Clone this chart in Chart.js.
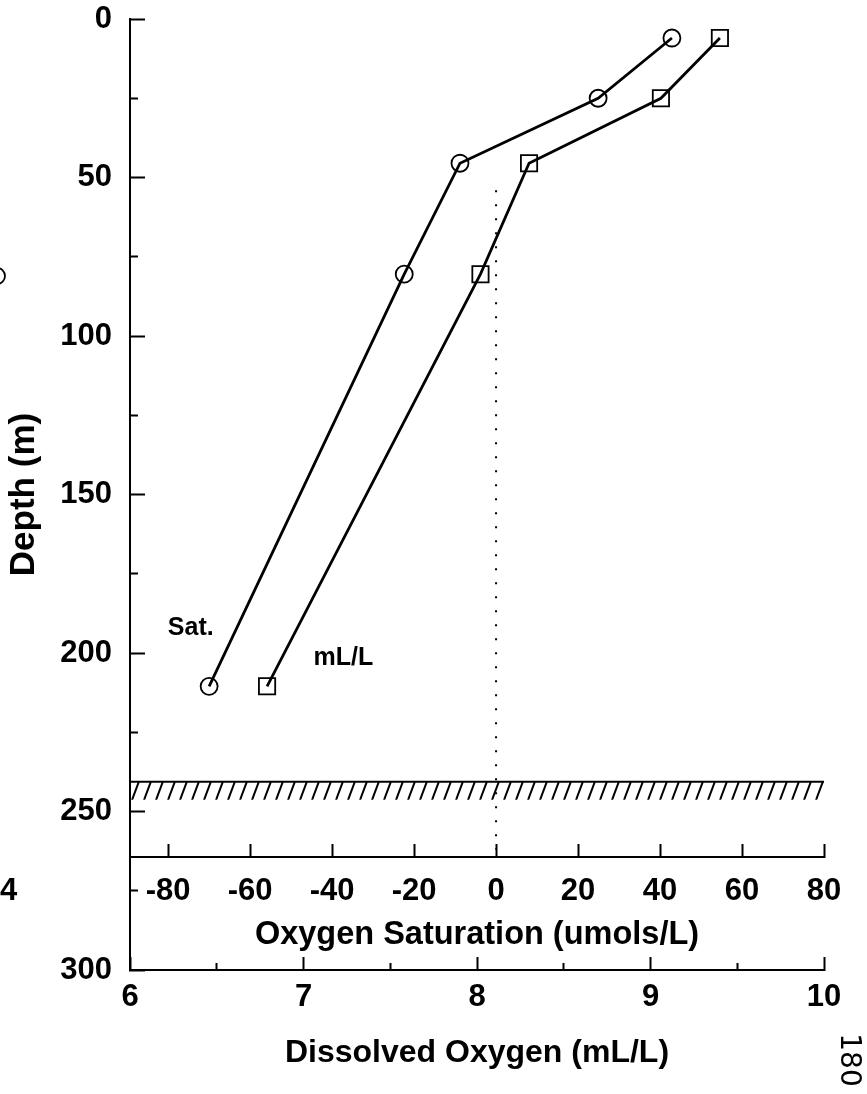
<!DOCTYPE html>
<html>
<head>
<meta charset="utf-8">
<script src="https://cdn.jsdelivr.net/npm/chart.js@4.4.1/dist/chart.umd.min.js"></script>
<style>
  html, body { margin: 0; padding: 0; background: #fff; }
  #wrap { width: 867px; height: 1094px; }
</style>
</head>
<body>
<div id="wrap"><canvas id="graph1" width="867" height="1094"></canvas></div>
<script>
// profile data
var depths = [6, 25, 45.5, 80.5, 210.5];
var satValues = [42.9, 24.9, -8.8, -22.4, -70.0];   // umols/L (circles)
var doValues = [9.40, 9.06, 8.30, 8.02, 6.79];      // mL/L (squares)

var doTicks = [6, 7, 8, 9, 10];
var doMinorTicks = [6.5, 7.5, 8.5, 9.5];
var satTicks = [-80, -60, -40, -20, 0, 20, 40, 60, 80];
var depthTicks = [0, 50, 100, 150, 200, 250, 300];
var depthMinorTicks = [25, 75, 125, 175, 225, 275];

var zeroSatDepths = [54, 262];     // dotted line at zero saturation
var bottomLayer = [240.6, 246.3];  // hatched bottom: top line, lower edge

var notes = [
  { text: 'Sat.', x: 6.35, y: 192 },
  { text: 'mL/L', x: 7.23, y: 201.5 }
];

Chart.defaults.font.family = '"Liberation Sans", Arial, sans-serif';
Chart.defaults.font.weight = 'bold';
Chart.defaults.color = '#000';

function pairs(xs, ys) {
  return xs.map(function (v, i) { return { x: v, y: ys[i] }; });
}
function setTicks(values) {
  return function (axis) {
    axis.ticks = values.map(function (v) { return { value: v }; });
  };
}
// keep the label overhang from pushing the plot area around
function fixSize(w, h) {
  return function (a) {
    if (w !== null) a.width = w;
    if (h !== null) a.height = h;
    a.paddingTop = a.paddingBottom = a.paddingLeft = a.paddingRight = 0;
  };
}

// diagonal hatching for the bottom layer
var tile = document.createElement('canvas');
tile.width = 12; tile.height = 32;
var tctx = tile.getContext('2d');
tctx.strokeStyle = '#000';
tctx.lineWidth = 2;
[-12, 0, 12].forEach(function (o) {
  tctx.beginPath();
  tctx.moveTo(o, 32);
  tctx.lineTo(o + 12, 0);
  tctx.stroke();
});
var hatch = tctx.createPattern(tile, 'repeat');

var notesPlugin = {
  id: 'notes',
  afterDatasetsDraw: function (chart) {
    var ctx = chart.ctx, sx = chart.scales.x, sy = chart.scales.y;
    ctx.save();
    ctx.fillStyle = '#000';
    ctx.font = 'bold 25px "Liberation Sans"';
    ctx.textAlign = 'center';
    ctx.textBaseline = 'middle';
    notes.forEach(function (n) {
      ctx.fillText(n.text, sx.getPixelForValue(n.x), sy.getPixelForValue(n.y));
    });
    // bits of the scanned page around the figure
    ctx.font = 'bold 31px "Liberation Sans"';
    ctx.textAlign = 'left';
    ctx.fillText('4', 0, 891);
    ctx.strokeStyle = '#000';
    ctx.lineWidth = 1.8;
    ctx.beginPath();
    ctx.arc(-3, 276, 8, 0, Math.PI * 2);
    ctx.stroke();
    ctx.translate(848, 1060);
    ctx.rotate(Math.PI / 2);
    ctx.font = '28px "DejaVu Sans"';
    ctx.textAlign = 'center';
    ctx.fillText('180', 0, 0);
    ctx.restore();
  }
};

var ctx1 = document.getElementById('graph1').getContext('2d');
var graph1 = new Chart(ctx1, {
  type: 'line',
  data: {
    datasets: [{
      label: 'Sat.',
      data: pairs(satValues, depths),
      xAxisID: 'xs',
      borderColor: '#000',
      borderWidth: 2.8,
      pointStyle: 'circle',
      pointRadius: 8.5,
      pointBorderWidth: 1.8,
      pointBackgroundColor: 'rgba(0,0,0,0)',
      pointBorderColor: '#000',
      tension: 0
    }, {
      label: 'mL/L',
      data: pairs(doValues, depths),
      xAxisID: 'x',
      borderColor: '#000',
      borderWidth: 2.8,
      pointStyle: 'rect',
      pointRadius: 11.5,
      pointBorderWidth: 1.8,
      pointBackgroundColor: 'rgba(0,0,0,0)',
      pointBorderColor: '#000',
      tension: 0
    }, {
      label: 'zero',
      data: [{ x: 0, y: zeroSatDepths[0] }, { x: 0, y: zeroSatDepths[1] }],
      xAxisID: 'xs',
      borderColor: '#000',
      borderWidth: 2,
      borderDash: [2, 12],
      pointRadius: 0
    }, {
      label: 'bottom',
      data: [{ x: 6, y: bottomLayer[0] }, { x: 10, y: bottomLayer[0] }],
      xAxisID: 'x',
      borderColor: '#000',
      borderWidth: 2,
      pointRadius: 0,
      fill: { value: bottomLayer[1] },
      backgroundColor: hatch
    }]
  },
  options: {
    responsive: false,
    animation: false,
    devicePixelRatio: 1,
    layout: { padding: { top: 19, right: 43, left: 0, bottom: 0 } },
    plugins: { legend: { display: false }, tooltip: { enabled: false } },
    scales: {
      x: {
        type: 'linear', position: 'bottom', min: 6, max: 10,
        afterBuildTicks: setTicks(doTicks),
        afterFit: fixSize(null, 124),
        grid: { drawOnChartArea: false, tickLength: -13, tickWidth: 2, tickColor: '#000' },
        border: { color: '#000', width: 2 },
        ticks: { font: { size: 31 }, padding: 22, maxRotation: 0, autoSkip: false,
                 callback: function (v) { return String(v); } },
        title: { display: true, text: 'Dissolved Oxygen (mL/L)', font: { size: 32 },
                 padding: { top: 0, bottom: 22 } }
      },
      xm: {
        type: 'linear', position: { y: 300 }, min: 6, max: 10,
        afterBuildTicks: setTicks(doMinorTicks),
        afterFit: fixSize(null, null),
        grid: { drawOnChartArea: false, tickLength: -7, tickWidth: 2, tickColor: '#000' },
        border: { display: false },
        ticks: { display: false }
      },
      xs: {
        type: 'linear', position: { y: 264.5 }, min: -89.3, max: 80,
        afterBuildTicks: setTicks(satTicks),
        afterFit: fixSize(null, 97),
        grid: { drawOnChartArea: false, tickLength: -14, tickWidth: 2, tickColor: '#000' },
        border: { color: '#000', width: 2 },
        ticks: { font: { size: 31 }, padding: 29, maxRotation: 0, autoSkip: false,
                 callback: function (v) { return String(v); } },
        title: { display: true, text: 'Oxygen Saturation (umols/L)', font: { size: 32.5 },
                 padding: { top: 0, bottom: 0 } }
      },
      y: {
        type: 'linear', position: 'left', reverse: true, min: 0, max: 300,
        afterBuildTicks: setTicks(depthTicks),
        afterFit: fixSize(130, null),
        grid: { drawOnChartArea: false, tickLength: -15, tickWidth: 2, tickColor: '#000' },
        border: { color: '#000', width: 2 },
        ticks: { font: { size: 31 }, padding: 33, autoSkip: false,
                 callback: function (v) { return String(v); } },
        title: { display: true, text: 'Depth (m)', font: { size: 35 },
                 padding: { top: 3, bottom: 0 } }
      },
      ym: {
        type: 'linear', position: { x: 6 }, reverse: true, min: 0, max: 300,
        afterBuildTicks: setTicks(depthMinorTicks),
        afterFit: fixSize(null, null),
        grid: { drawOnChartArea: false, tickLength: -8, tickWidth: 2, tickColor: '#000' },
        border: { display: false },
        ticks: { display: false }
      }
    }
  },
  plugins: [notesPlugin]
});
</script>
</body>
</html>
